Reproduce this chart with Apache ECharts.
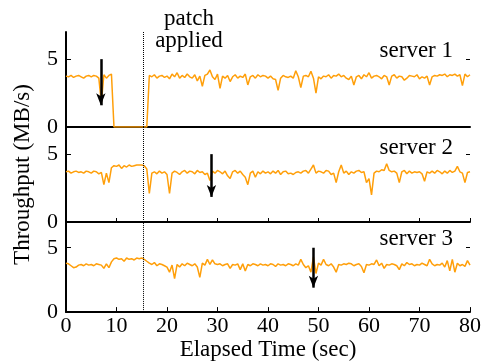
<!DOCTYPE html>
<html>
<head>
<meta charset="utf-8">
<script src="https://cdn.jsdelivr.net/npm/echarts@6/dist/echarts.min.js"></script>
<style>
  html, body { margin: 0; background: #fff; }
  #chart { width: 487px; height: 362px; }
</style>
</head>
<body>
<div id="chart"></div>
<script>
// throughput samples, one every 0.5 sec from 0 to 80
var step = 0.5;
var server1 = [
  3.75,3.7,3.8,3.65,3.75,3.8,3.7,3.6,3.75,3.8,
  3.7,3.8,3.75,3.6,1.8,3.85,3.6,3.8,3.9,0,
  0,0,0,0,0,0,0,0,0,0,
  0,0,0,3.8,3.7,3.85,3.6,3.75,3.8,3.65,
  3.75,3.55,3.9,3.7,4.0,3.6,3.8,3.65,3.9,3.7,
  3.6,3.85,3.4,3.75,3.0,3.8,3.9,4.2,3.7,3.5,
  3.9,2.85,3.75,3.6,3.8,3.35,3.7,3.85,3.6,3.75,
  3.65,3.9,3.1,3.7,3.8,3.6,3.85,3.7,3.8,3.75,
  3.6,3.75,3.55,3.5,2.7,3.6,3.8,3.7,3.65,3.75,
  3.6,4.15,3.7,2.9,3.75,3.8,3.7,4.1,3.6,2.5,
  3.7,3.55,3.75,3.7,3.85,3.6,3.8,3.75,3.9,3.7,
  3.8,3.6,3.5,3.75,3.1,3.7,3.8,3.55,3.85,3.7,
  4.0,3.6,3.75,3.8,3.7,3.55,3.8,3.7,3.1,3.75,
  3.85,3.6,3.75,3.7,3.45,3.6,3.8,3.75,3.7,3.85,
  3.55,3.7,3.6,3.75,3.1,3.7,3.8,3.75,3.85,3.8,
  3.9,3.7,3.85,3.8,3.9,3.75,3.85,3.05,3.9,3.7,
  3.85
];
var server2 = [
  3.7,3.75,3.6,3.7,3.75,3.65,3.7,3.6,3.75,3.7,
  3.6,3.75,3.7,3.55,3.65,2.75,3.6,2.9,4.0,4.15,
  4.1,4.2,3.95,4.15,4.05,4.2,4.1,4.15,4.2,4.2,
  4.2,4.15,3.9,2.1,3.6,3.7,3.55,3.75,3.6,3.7,
  3.5,2.1,3.6,3.75,3.65,3.5,3.7,3.8,3.6,3.75,
  3.7,3.55,3.8,3.65,3.7,3.5,3.6,3.05,3.75,3.6,
  3.8,3.7,3.55,3.75,3.4,3.2,3.7,3.8,3.6,3.75,
  3.5,3.3,2.75,3.6,3.75,3.3,3.7,3.55,3.75,3.6,
  3.7,3.55,3.75,3.6,3.8,3.5,3.7,3.75,3.55,3.6,
  3.5,3.65,3.7,3.6,3.75,3.8,3.6,3.9,4.2,3.6,
  3.75,3.7,3.6,3.8,3.75,3.5,3.6,2.9,3.7,4.2,
  3.6,3.75,3.5,3.7,3.6,3.75,3.8,3.65,3.7,2.9,
  3.2,2.0,3.6,3.75,3.7,3.85,3.8,4.3,3.8,3.7,
  3.75,3.6,2.9,3.7,3.8,3.55,3.75,3.6,3.7,3.65,
  3.7,3.55,3.0,3.7,3.6,3.75,3.6,3.8,3.7,3.55,
  3.75,3.6,3.8,3.65,3.75,4.1,3.7,3.6,2.9,3.65,
  3.7
];
var server3 = [
  3.8,3.75,3.6,3.45,3.5,3.65,3.7,3.6,3.75,3.65,
  3.7,3.6,3.75,3.7,3.65,3.4,3.75,3.45,3.9,4.15,
  4.2,4.1,4.15,3.95,4.2,4.1,4.15,4.05,4.2,4.15,
  4.2,4.1,3.95,3.8,3.7,3.85,3.6,3.75,3.7,3.6,
  3.5,3.1,3.65,2.6,3.7,3.5,3.75,3.6,3.8,3.7,
  3.6,3.75,3.5,2.7,3.8,3.65,4.1,3.7,4.05,3.75,
  3.7,3.75,3.6,3.7,3.75,3.4,3.7,3.65,3.75,3.3,
  3.75,3.2,3.7,3.6,3.75,3.7,3.6,3.75,3.65,3.7,
  3.6,3.75,3.7,3.55,3.75,3.65,3.7,3.6,3.75,3.7,
  3.6,3.75,3.65,4.1,3.7,3.45,3.6,3.1,4.3,3.0,
  3.8,3.65,4.1,3.7,3.6,3.75,3.5,3.1,3.7,3.65,
  3.75,3.7,3.8,3.75,3.6,3.7,3.75,3.55,3.05,3.7,
  3.65,3.75,3.7,4.05,3.6,3.8,3.4,3.7,3.65,3.75,
  3.7,3.6,3.3,3.75,3.6,3.85,3.7,3.75,3.6,3.7,
  3.65,3.8,3.7,3.6,4.1,3.75,3.6,3.7,3.65,3.8,
  3.5,4.0,3.2,4.1,3.1,3.8,3.6,3.7,3.55,4.0,
  3.65
];
var serverNames = ['server 1', 'server 2', 'server 3'];
var patchTime = 15.3;
// arrows: time, start value, tip value
var arrowTime = [6.9, 28.8, 49.0];
var arrowFrom = [5, 5, 5];
var arrowTo = [1.6, 1.85, 1.9];

var font = 'Liberation Serif';
var orange = '#ff9f0a';

function toPoints(arr) {
  return arr.map(function (v, i) { return [i * step, v]; });
}

var chart = echarts.init(document.getElementById('chart'));

var allData = [server1, server2, server3];
var tops = [32, 127, 222];
var labelTops = [34, 131, 222];

var grids = [], xAxes = [], yAxes = [], series = [], titles = [];

for (var i = 0; i < 3; i++) {
  grids.push({ left: 66, right: 17, top: tops[i], height: 95 });

  xAxes.push({
    gridIndex: i,
    type: 'value',
    min: 0, max: 80, interval: 10,
    splitLine: { show: false },
    axisLine: { lineStyle: { color: '#000', width: 2 } },
    axisTick: { show: i > 0, inside: true, length: i == 2 ? 5 : 4, lineStyle: { color: '#000', width: 1 } },
    axisLabel: { show: i == 2, color: '#000', fontFamily: font, fontSize: 22, margin: 3 },
    name: i == 2 ? 'Elapsed Time (sec)' : '',
    nameLocation: 'middle',
    nameGap: 24,
    nameTextStyle: { color: '#000', fontFamily: font, fontSize: 23 }
  });

  // left axis
  yAxes.push({
    gridIndex: i,
    type: 'value',
    min: 0, max: 7,
    splitLine: { show: false },
    axisLine: { show: true, lineStyle: { color: '#000', width: 2 } },
    axisTick: { inside: true, length: 5, customValues: [0, 5], lineStyle: { color: '#000' } },
    axisLabel: { customValues: [0, 5], color: '#000', fontFamily: font, fontSize: 22, margin: 8 },
    name: i == 1 ? 'Throughput (MB/s)' : '',
    nameLocation: 'middle',
    nameGap: 32,
    nameTextStyle: { color: '#000', fontFamily: font, fontSize: 23 }
  });
  // right side, just the small tick at 5
  yAxes.push({
    gridIndex: i,
    type: 'value',
    position: 'right',
    min: 0, max: 7,
    splitLine: { show: false },
    axisLine: { show: false },
    axisTick: { show: true, inside: true, length: 4, customValues: [5], lineStyle: { color: '#000' } },
    axisLabel: { show: false }
  });

  series.push({
    type: 'line',
    xAxisIndex: i,
    yAxisIndex: i * 2,
    data: toPoints(allData[i]),
    showSymbol: false,
    lineStyle: { color: orange, width: 1.5 },
    itemStyle: { color: orange },
    z: 2,
    markLine: {
      silent: true,
      animation: false,
      label: { show: false },
      symbol: ['none', 'none'],
      data: [
        [
          { coord: [patchTime, 0], lineStyle: { color: '#000', type: 'dotted', width: 1 } },
          { coord: [patchTime, 7] }
        ],
        [
          { coord: [arrowTime[i], arrowFrom[i]], symbol: 'none', lineStyle: { color: '#000', type: 'solid', width: 2.5 } },
          { coord: [arrowTime[i], arrowTo[i]], symbol: 'arrow', symbolSize: [7, 12] }
        ]
      ]
    }
  });

  titles.push({
    text: serverNames[i],
    right: 29,
    top: labelTops[i],
    textStyle: { color: '#000', fontFamily: font, fontSize: 23, fontWeight: 'normal' }
  });
}

titles.push({
  text: 'patch\napplied',
  left: 184,
  top: 3,
  textAlign: 'center',
  textStyle: { color: '#000', fontFamily: font, fontSize: 23, fontWeight: 'normal', lineHeight: 22 }
});

var option = {
  animation: false,
  title: titles,
  grid: grids,
  xAxis: xAxes,
  yAxis: yAxes,
  series: series
};

chart.setOption(option);
window.addEventListener('resize', function () {
  chart.resize();
});
</script>
</body>
</html>
